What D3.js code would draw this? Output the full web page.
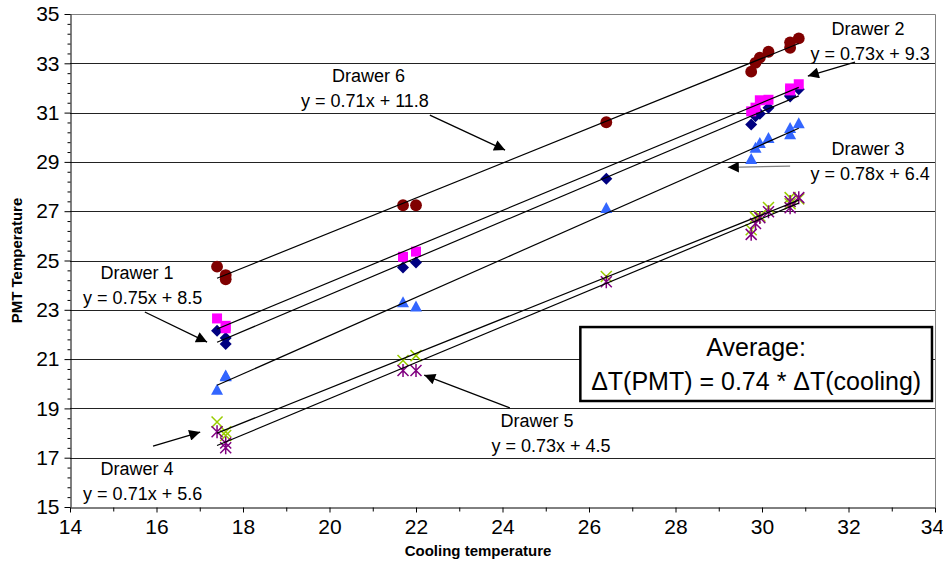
<!DOCTYPE html>
<html>
<head>
    <title>PMT vs Cooling temperature</title>
    <script src="https://d3js.org/d3.v7.min.js"></script>
    <style>
        body { margin: 0; background: #fff; }
        .note { font-family: "Liberation Sans", Arial, sans-serif; font-size: 18px; }
    </style>
</head>
<body>
    <div id="chart"></div>
    <script>
        // cooling temperature of every measurement (shared by all drawers)
        var coolingTemp = [17.4, 17.6, 17.6, 21.7, 22.0, 26.4, 29.75, 29.85, 29.95, 30.15, 30.65, 30.65, 30.85];
        // PMT temperature per drawer (null = no point)
        var drawer1 = [22.15, 21.86, 21.61, 24.72, 24.92, 28.32, 30.52, 30.85, 30.95, 31.2, 31.65, 31.7, 31.95];
        var drawer2 = [22.65, 22.35, 22.25, 25.15, 25.36, null, 31.05, 31.2, 31.5, 31.52, 31.9, 31.98, 32.15];
        var drawer3 = [19.74, 20.31, 20.28, 23.29, 23.11, 27.11, 29.1, 29.55, 29.75, 29.95, 30.1, 30.35, 30.55];
        var drawer4 = [18.45, 18.05, 17.9, 20.94, 21.14, 24.35, 26.25, 26.75, 26.8, 27.15, 27.3, 27.55, 27.5];
        var drawer5 = [18.05, 17.6, 17.4, 20.54, 20.54, 24.14, 26.06, 26.5, 26.74, 26.98, 27.14, 27.39, 27.55];
        var drawer6 = [24.75, 24.41, 24.24, 27.24, 27.24, 30.61, 32.66, 33.02, 33.23, 33.47, 33.63, 33.85, 34.01];
        var drawerNames = ["Drawer 1", "Drawer 2", "Drawer 3", "Drawer 4", "Drawer 5", "Drawer 6"];
        var equations = ["y = 0.75x + 8.5", "y = 0.73x + 9.3", "y = 0.78x + 6.4", "y = 0.71x + 5.6", "y = 0.73x + 4.5", "y = 0.71x + 11.8"];
        var xTicks = [14, 16, 18, 20, 22, 24, 26, 28, 30, 32, 34];
        var yTicks = [15, 17, 19, 21, 23, 25, 27, 29, 31, 33, 35];

        var drawers = [drawer1, drawer2, drawer3, drawer4, drawer5, drawer6];
        var colors = ["#000080", "#ff00ff", "#3366ff", "#99cc00", "#800080", "#800000"];
        var shapes = ["diamond", "square", "triangle", "x", "star", "circle"];

        var width = 943, height = 569;
        var svg = d3.select("#chart").append("svg")
            .attr("width", width)
            .attr("height", height);

        var x = d3.scaleLinear().domain([14, 34]).range([70, 935]);
        var y = d3.scaleLinear().domain([15, 35]).range([507, 14]);

        // gridlines
        svg.append("g").selectAll("line")
            .data(yTicks.slice(1, -1))
            .enter().append("line")
            .attr("x1", x(14)).attr("x2", x(34))
            .attr("y1", function(d) { return Math.round(y(d)) + 0.5; })
            .attr("y2", function(d) { return Math.round(y(d)) + 0.5; })
            .attr("stroke", "#222").attr("stroke-width", 1);

        // plot border (top / right)
        svg.append("path")
            .attr("d", "M" + x(14) + "," + (y(35) + 0.5) + "H" + (x(34) + 0.5) + "V" + y(15))
            .attr("fill", "none").attr("stroke", "#808080");

        // axes
        var gx = svg.append("g")
            .attr("transform", "translate(0," + (Math.round(y(15)) + 0.5) + ")")
            .call(d3.axisBottom(x).tickValues(xTicks).tickSize(5).tickSizeOuter(0).tickPadding(7));
        svg.append("g")
            .attr("transform", "translate(0," + (Math.round(y(15)) + 0.5) + ")")
            .call(d3.axisBottom(x).tickValues(d3.range(15, 34, 2)).tickSize(4).tickFormat(""))
            .select(".domain").remove();
        svg.append("g")
            .attr("transform", "translate(" + (x(14) + 0.5) + ",0)")
            .call(d3.axisLeft(y).tickValues(yTicks).tickSize(6).tickSizeOuter(0).tickPadding(5));
        svg.append("g")
            .attr("transform", "translate(" + (x(14) + 0.5) + ",0)")
            .call(d3.axisLeft(y).tickValues(d3.range(15.4, 35, 0.4).filter(function(v) {
                return Math.abs((v - 15) / 2 - Math.round((v - 15) / 2)) > 0.01;
            })).tickSize(3).tickFormat(""))
            .select(".domain").remove();
        svg.selectAll(".domain, .tick line").attr("stroke", "#000");
        svg.selectAll(".tick text")
            .attr("font-family", null).attr("font-size", null)
            .style("font-family", "'Liberation Sans Narrow', 'Arial Narrow', 'Liberation Sans', Arial, sans-serif")
            .style("font-size", "21px");
        svg.selectAll("g").attr("font-size", null).attr("font-family", null);
        // keep the last x label inside the picture
        gx.selectAll(".tick text").filter(function(d) { return d === 34; }).attr("dx", "-3");

        // axis titles
        svg.append("text")
            .attr("x", 478).attr("y", 556)
            .attr("text-anchor", "middle")
            .style("font-family", "'Liberation Sans Narrow', 'Arial Narrow', Arial, sans-serif")
            .style("font-weight", "bold").style("font-size", "15px")
            .text("Cooling temperature");
        svg.append("text")
            .attr("transform", "translate(22," + ((y(15) + y(35)) / 2) + ") rotate(-90)")
            .attr("text-anchor", "middle")
            .style("font-family", "'Liberation Sans Narrow', 'Arial Narrow', Arial, sans-serif")
            .style("font-weight", "bold").style("font-size", "15px")
            .text("PMT Temperature");

        // markers
        function markerPath(shape) {
            if (shape === "diamond") return "M0,-6L6,0L0,6L-6,0Z";
            if (shape === "square") return d3.symbol().type(d3.symbolSquare).size(100)();
            if (shape === "circle") return d3.symbol().type(d3.symbolCircle).size(110)();
            if (shape === "triangle") return "M0,-6.5L6,4.5L-6,4.5Z";
            if (shape === "x") return "M-5.5,-5.5L5.5,5.5M-5.5,5.5L5.5,-5.5";
            return "M-5.5,-5.5L5.5,5.5M-5.5,5.5L5.5,-5.5M0,-6.5V6.5";
        }

        drawers.forEach(function(vals, i) {
            var pts = coolingTemp.map(function(t, j) { return [t, vals[j]]; })
                .filter(function(p) { return p[1] != null; });
            var filled = shapes[i] !== "x" && shapes[i] !== "star";
            svg.append("g").selectAll("path")
                .data(pts)
                .enter().append("path")
                .attr("transform", function(d) { return "translate(" + x(d[0]) + "," + y(d[1]) + ")"; })
                .attr("d", markerPath(shapes[i]))
                .attr("fill", filled ? colors[i] : "none")
                .attr("stroke", filled ? "none" : colors[i])
                .attr("stroke-width", 1.5);
        });

        // linear trendlines (least squares over each drawer's points)
        drawers.forEach(function(vals) {
            var pts = coolingTemp.map(function(t, j) { return [t, vals[j]]; })
                .filter(function(p) { return p[1] != null; });
            var mx = d3.mean(pts, function(p) { return p[0]; });
            var my = d3.mean(pts, function(p) { return p[1]; });
            var sxy = d3.sum(pts, function(p) { return (p[0] - mx) * (p[1] - my); });
            var sxx = d3.sum(pts, function(p) { return (p[0] - mx) * (p[0] - mx); });
            var b = sxy / sxx, a = my - b * mx;
            var ext = d3.extent(pts, function(p) { return p[0]; });
            svg.append("line")
                .attr("x1", x(ext[0])).attr("y1", y(a + b * ext[0]))
                .attr("x2", x(ext[1])).attr("y2", y(a + b * ext[1]))
                .attr("stroke", "#000").attr("stroke-width", 1.2);
        });

        // annotations (positions in data units)
        var notes = [
            { d: 0, lx: 15.55, ly: 24.5, ax1: 15.73, ay1: 22.91, ax2: 17.17, ay2: 21.69, c: "#000" },
            { d: 1, lx: 32.45, ly: 34.4, ax1: 32.15, ay1: 33.05, ax2: 31.06, ay2: 32.48, c: "#000" },
            { d: 2, lx: 32.45, ly: 29.52, ax1: 30.65, ay1: 28.83, ax2: 29.21, ay2: 28.78, c: "#808080" },
            { d: 3, lx: 15.55, ly: 16.56, ax1: 15.92, ay1: 17.47, ax2: 17.01, ay2: 18.04, c: "#000" },
            { d: 4, lx: 24.8, ly: 18.5, ax1: 24.17, ay1: 19.02, ax2: 22.19, ay2: 20.35, c: "#000" },
            { d: 5, lx: 20.9, ly: 32.5, ax1: 22.32, ay1: 30.9, ax2: 24.06, ay2: 29.48, c: "#000" }
        ];
        var eqX = [15.68, 32.5, 32.5, 15.68, 25.12, 20.82];

        svg.append("defs").append("marker")
            .attr("id", "head")
            .attr("viewBox", "0 0 10 10")
            .attr("refX", 10).attr("refY", 5)
            .attr("markerUnits", "userSpaceOnUse")
            .attr("markerWidth", 13).attr("markerHeight", 11)
            .attr("orient", "auto")
            .append("path").attr("d", "M0,0L10,5L0,10Z").attr("fill", "#000");

        notes.forEach(function(n) {
            svg.append("line")
                .attr("x1", x(n.ax1)).attr("y1", y(n.ay1))
                .attr("x2", x(n.ax2)).attr("y2", y(n.ay2))
                .attr("stroke", n.c).attr("stroke-width", 1.3)
                .attr("marker-end", "url(#head)");
            svg.append("text").attr("class", "note")
                .attr("x", x(n.lx)).attr("y", y(n.ly) + 6)
                .attr("text-anchor", "middle")
                .text(drawerNames[n.d]);
            svg.append("text").attr("class", "note")
                .attr("x", x(eqX[n.d])).attr("y", y(n.ly) + 31)
                .attr("text-anchor", "middle")
                .text(equations[n.d]);
        });

        // average box
        var bx0 = x(25.8), bx1 = x(33.93), by0 = y(22.3), by1 = y(19.3);
        svg.append("rect")
            .attr("x", bx0).attr("y", by0)
            .attr("width", bx1 - bx0).attr("height", by1 - by0)
            .attr("fill", "#fff").attr("stroke", "#000").attr("stroke-width", 2.5);
        svg.append("text").attr("class", "note")
            .attr("x", (bx0 + bx1) / 2).attr("y", by0 + 29)
            .attr("text-anchor", "middle").style("font-size", "25px")
            .text("Average:");
        svg.append("text").attr("class", "note")
            .attr("x", (bx0 + bx1) / 2).attr("y", by0 + 63)
            .attr("text-anchor", "middle").style("font-size", "25px")
            .text("\u0394T(PMT) = 0.74 * \u0394T(cooling)");
    </script>
</body>
</html>
